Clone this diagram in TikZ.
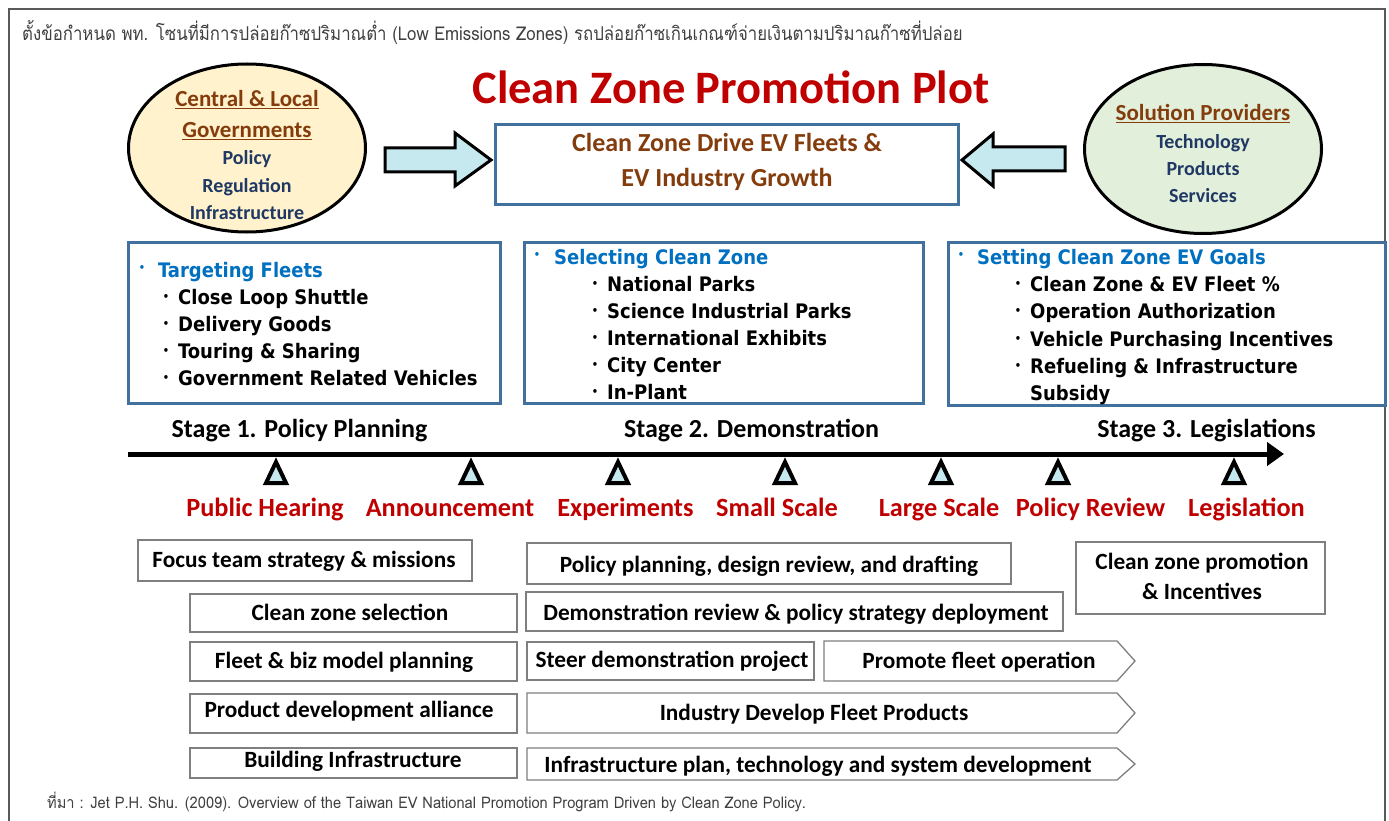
\documentclass[tikz,border=0pt]{standalone}
\usepackage{fontspec}
\setmainfont{Carlito}
\newfontfamily\thaifont[Script=Thai]{Loma}
\newfontfamily\tahoma{DejaVu Sans Condensed}
\usetikzlibrary{arrows.meta,shapes.geometric}
\definecolor{bbord}{HTML}{41719C}
\definecolor{brownt}{HTML}{843C0C}
\definecolor{navyt}{HTML}{1F3864}
\definecolor{bluet}{HTML}{0070C0}
\definecolor{redt}{HTML}{C00000}
\definecolor{cyanf}{HTML}{C5E9EE}
\definecolor{yellf}{HTML}{FFF2CC}
\definecolor{greenf}{HTML}{E2EFDA}
\definecolor{grayb}{HTML}{7F7F7F}
\definecolor{headt}{HTML}{404040}
\definecolor{framec}{HTML}{595959}
\tikzset{
  txt/.style={inner sep=0pt, text height=14pt, text depth=0pt, font=\fontsize{22pt}{26pt}\selectfont\bfseries},
  elltitle/.style={txt, text height=14.7pt, text=brownt, font=\fontsize{23pt}{26pt}\selectfont\bfseries},
  ellitem/.style={txt, text height=12.8pt, text=navyt, font=\fontsize{20pt}{24pt}\selectfont\bfseries},
  bluebox/.style={draw=bbord, line width=3pt, fill=white, inner sep=0pt},
  blockarrow/.style={draw=black, line width=3pt, fill=cyanf, line join=miter},
  headitem/.style={inner sep=0pt, anchor=west, text height=14.6pt, text depth=0pt, text=bluet, font=\tahoma\fontsize{20pt}{24pt}\selectfont\bfseries},
  subitem/.style={inner sep=0pt, anchor=west, text height=14.6pt, text depth=0pt, text=black, font=\tahoma\fontsize{20pt}{24pt}\selectfont\bfseries},
  bul/.style={inner sep=0pt, font=\tahoma\fontsize{11pt}{12pt}\selectfont\bfseries},
  stagelab/.style={txt, text height=16.6pt, font=\fontsize{26pt}{28pt}\selectfont\bfseries},
  milestone/.style={txt, text height=16.8pt, text=redt, font=\fontsize{26.3pt}{28pt}\selectfont\bfseries},
  tri/.style={draw=black, line width=4pt, fill=cyanf, line join=miter},
  taskbox/.style={draw=grayb, line width=1.3pt, inner sep=0pt},
  tasktxt/.style={txt, text height=14.9pt, font=\fontsize{23.3pt}{30pt}\selectfont\bfseries},
}
\begin{document}
\begin{tikzpicture}[x=1pt,y=-1pt]
\useasboundingbox (0,0) rectangle (1389,821);
\fill[white] (0,0) rectangle (1389,821);
% frame
\draw[framec, line width=1.2pt] (9,821) -- (9,9) -- (1385,9) -- (1385,821);
% header
\node[inner sep=0pt, anchor=west, text=headt, font=\thaifont\fontsize{19pt}{22pt}\selectfont] (head) at (22,32)
  {\scalebox{0.884}[1]{ตั้งข้อกำหนด พท. โซนที่มีการปล่อยก๊าซปริมาณต่ำ (Low Emissions Zones) รถปล่อยก๊าซเกินเกณฑ์จ่ายเงินตามปริมาณก๊าซที่ปล่อย}};
% title
\node[txt, text height=29.8pt, text=redt, font=\fontsize{46.5pt}{50pt}\selectfont\bfseries] (title) at (731,89) {Clean Zone Promotion Plot};
% ellipses
\node[ellipse, draw=black, line width=3pt, fill=yellf, minimum width=237pt, minimum height=168pt, inner sep=0pt] (gov) at (247,148) {};
\node[elltitle] (gov1) at (247,99) {\underline{Central \& Local}};
\node[elltitle] (gov2) at (247,130) {\underline{Governments}};
\node[ellitem] (gov3) at (247,158) {Policy};
\node[ellitem] (gov4) at (247,186) {Regulation};
\node[ellitem] (gov5) at (247,213) {Infrastructure};
\node[ellipse, draw=black, line width=3pt, fill=greenf, minimum width=237pt, minimum height=169pt, inner sep=0pt] (sol) at (1203,149) {};
\node[elltitle] (sol1) at (1203,113) {\underline{Solution Providers}};
\node[ellitem] (sol2) at (1203,142) {Technology};
\node[ellitem] (sol3) at (1203,169) {Products};
\node[ellitem] (sol4) at (1203,196) {Services};
% center box
\node[bluebox, minimum width=463pt, minimum height=80pt] (drive) at (727,164.5) {};
\node[txt, text height=16.6pt, text=brownt, font=\fontsize{26pt}{28pt}\selectfont\bfseries] (drive1) at (727,143) {Clean Zone Drive EV Fleets \&};
\node[txt, text height=16.6pt, text=brownt, font=\fontsize{26pt}{28pt}\selectfont\bfseries] (drive2) at (727,178) {EV Industry Growth};
% block arrows
\draw[blockarrow] (385,148) -- (455,148) -- (455,133) -- (491,160) -- (455,186) -- (455,172) -- (385,172) -- cycle;
\draw[blockarrow] (1065,147) -- (993,147) -- (993,134) -- (962,160) -- (993,186) -- (993,171) -- (1065,171) -- cycle;
% middle boxes
\node[bluebox, minimum width=372pt, minimum height=161pt] (boxA) at (314.5,323) {};
\node[bluebox, minimum width=399pt, minimum height=161pt] (boxB) at (724,323) {};
\node[bluebox, minimum width=437pt, minimum height=163pt] (boxC) at (1167,324) {};
% box A text
\node[bul, text=bluet] (a0b) at (142,268) {•};
\node[headitem] (a0) at (158,270) {Targeting Fleets};
\foreach \y/\t [count=\i] in {297/Close Loop Shuttle, 324/Delivery Goods, 351/Touring \& Sharing, 378/Government Related Vehicles}{
  \node[bul] (ab\i) at (166,\y) {•};
  \node[subitem] (a\i) at (178,\y) {\t};
}
% box B text
\node[bul, text=bluet] (b0b) at (537,255) {•};
\node[headitem] (b0) at (554,257) {Selecting Clean Zone};
\foreach \y/\t [count=\i] in {284/National Parks, 311/Science Industrial Parks, 338/International Exhibits, 365/City Center, 392/In-Plant}{
  \node[bul] (bb\i) at (595,\y) {•};
  \node[subitem] (b\i) at (607,\y) {\t};
}
% box C text
\node[bul, text=bluet] (c0b) at (961,255) {•};
\node[headitem] (c0) at (977,257) {Setting Clean Zone EV Goals};
\foreach \y/\t [count=\i] in {284/Clean Zone \& EV Fleet \%, 311/Operation Authorization, 339/Vehicle Purchasing Incentives, 366/Refueling \& Infrastructure}{
  \node[bul] (cb\i) at (1018,\y) {•};
  \node[subitem] (c\i) at (1030,\y) {\t};
}
\node[subitem] (c5) at (1030,393) {Subsidy};
% stages
\node[stagelab] (st1) at (299.5,429) {Stage 1. Policy Planning};
\node[stagelab] (st2) at (751.5,429) {Stage 2. Demonstration};
\node[stagelab] (st3) at (1206.5,429) {Stage 3. Legislations};
% timeline
\coordinate (tl0) at (128,454);
\coordinate (tl1) at (1284,454);
\draw[line width=5pt, -{Triangle[length=17pt,width=23pt]}] (tl0) -- (tl1);
% milestones
\foreach \x in {276,471,618,785,941,1058,1234}{
  \draw[tri] (\x-10,483) -- (\x,462) -- (\x+10,483) -- cycle;
}
\node[milestone] (m1) at (265,508) {Public Hearing};
\node[milestone] (m2) at (450,508) {Announcement};
\node[milestone] (m3) at (625.5,508) {Experiments};
\node[milestone] (m4) at (777,508) {Small Scale};
\node[milestone] (m5) at (939,508) {Large Scale};
\node[milestone] (m6) at (1090.5,508) {Policy Review};
\node[milestone] (m7) at (1246.5,508) {Legislation};
% task boxes
\node[taskbox, minimum width=334pt, minimum height=41pt] (t1) at (305,560.5) {};
\node[tasktxt] (t1t) at (304,560) {Focus team strategy \& missions};
\node[taskbox, minimum width=327pt, minimum height=38pt] (t2) at (353.5,613) {};
\node[tasktxt] (t2t) at (350,613) {Clean zone selection};
\node[taskbox, minimum width=327pt, minimum height=39pt] (t3) at (353.5,661.5) {};
\node[tasktxt] (t3t) at (344,661) {Fleet \& biz model planning};
\node[taskbox, minimum width=327pt, minimum height=39pt] (t4) at (353.5,713.5) {};
\node[tasktxt] (t4t) at (349,710) {Product development alliance};
\node[taskbox, minimum width=327pt, minimum height=30pt] (t5) at (353.5,763) {};
\node[tasktxt] (t5t) at (353,760) {Building Infrastructure};
\node[taskbox, minimum width=484pt, minimum height=41pt] (t6) at (769,563.5) {};
\node[tasktxt] (t6t) at (769,565) {Policy planning, design review, and drafting};
\node[taskbox, minimum width=537pt, minimum height=39pt] (t7) at (794.5,611.5) {};
\node[tasktxt] (t7t) at (796,613) {Demonstration review \& policy strategy deployment};
\node[taskbox, minimum width=287pt, minimum height=38pt] (t8) at (670.5,661) {};
\node[tasktxt] (t8t) at (672,660) {Steer demonstration project};
\node[taskbox, minimum width=249pt, minimum height=72pt] (t9) at (1200.5,578) {};
\node[tasktxt] (t9a) at (1202,562) {Clean zone promotion};
\node[tasktxt] (t9b) at (1202,592) {\& Incentives};
% arrow-shaped task boxes
\draw[grayb, line width=1.3pt] (824,641) -- (1117,641) -- (1135,661) -- (1117,681) -- (824,681) -- cycle;
\node[tasktxt] (t10t) at (979,661) {Promote fleet operation};
\draw[grayb, line width=1.3pt] (527,693) -- (1117,693) -- (1135,713) -- (1117,733) -- (527,733) -- cycle;
\node[tasktxt] (t11t) at (814,713) {Industry Develop Fleet Products};
\draw[grayb, line width=1.3pt] (527,748) -- (1117,748) -- (1135,764) -- (1117,780) -- (527,780) -- cycle;
\node[tasktxt] (t12t) at (818,765) {Infrastructure plan, technology and system development};
% footer
\node[inner sep=0pt, anchor=west, text=headt, font=\thaifont\fontsize{16pt}{18pt}\selectfont] (foot) at (47,802)
  {\scalebox{0.915}[1]{ที่มา : Jet P.H. Shu. (2009). Overview of the Taiwan EV National Promotion Program Driven by Clean Zone Policy.}};
\end{tikzpicture}
\end{document}
